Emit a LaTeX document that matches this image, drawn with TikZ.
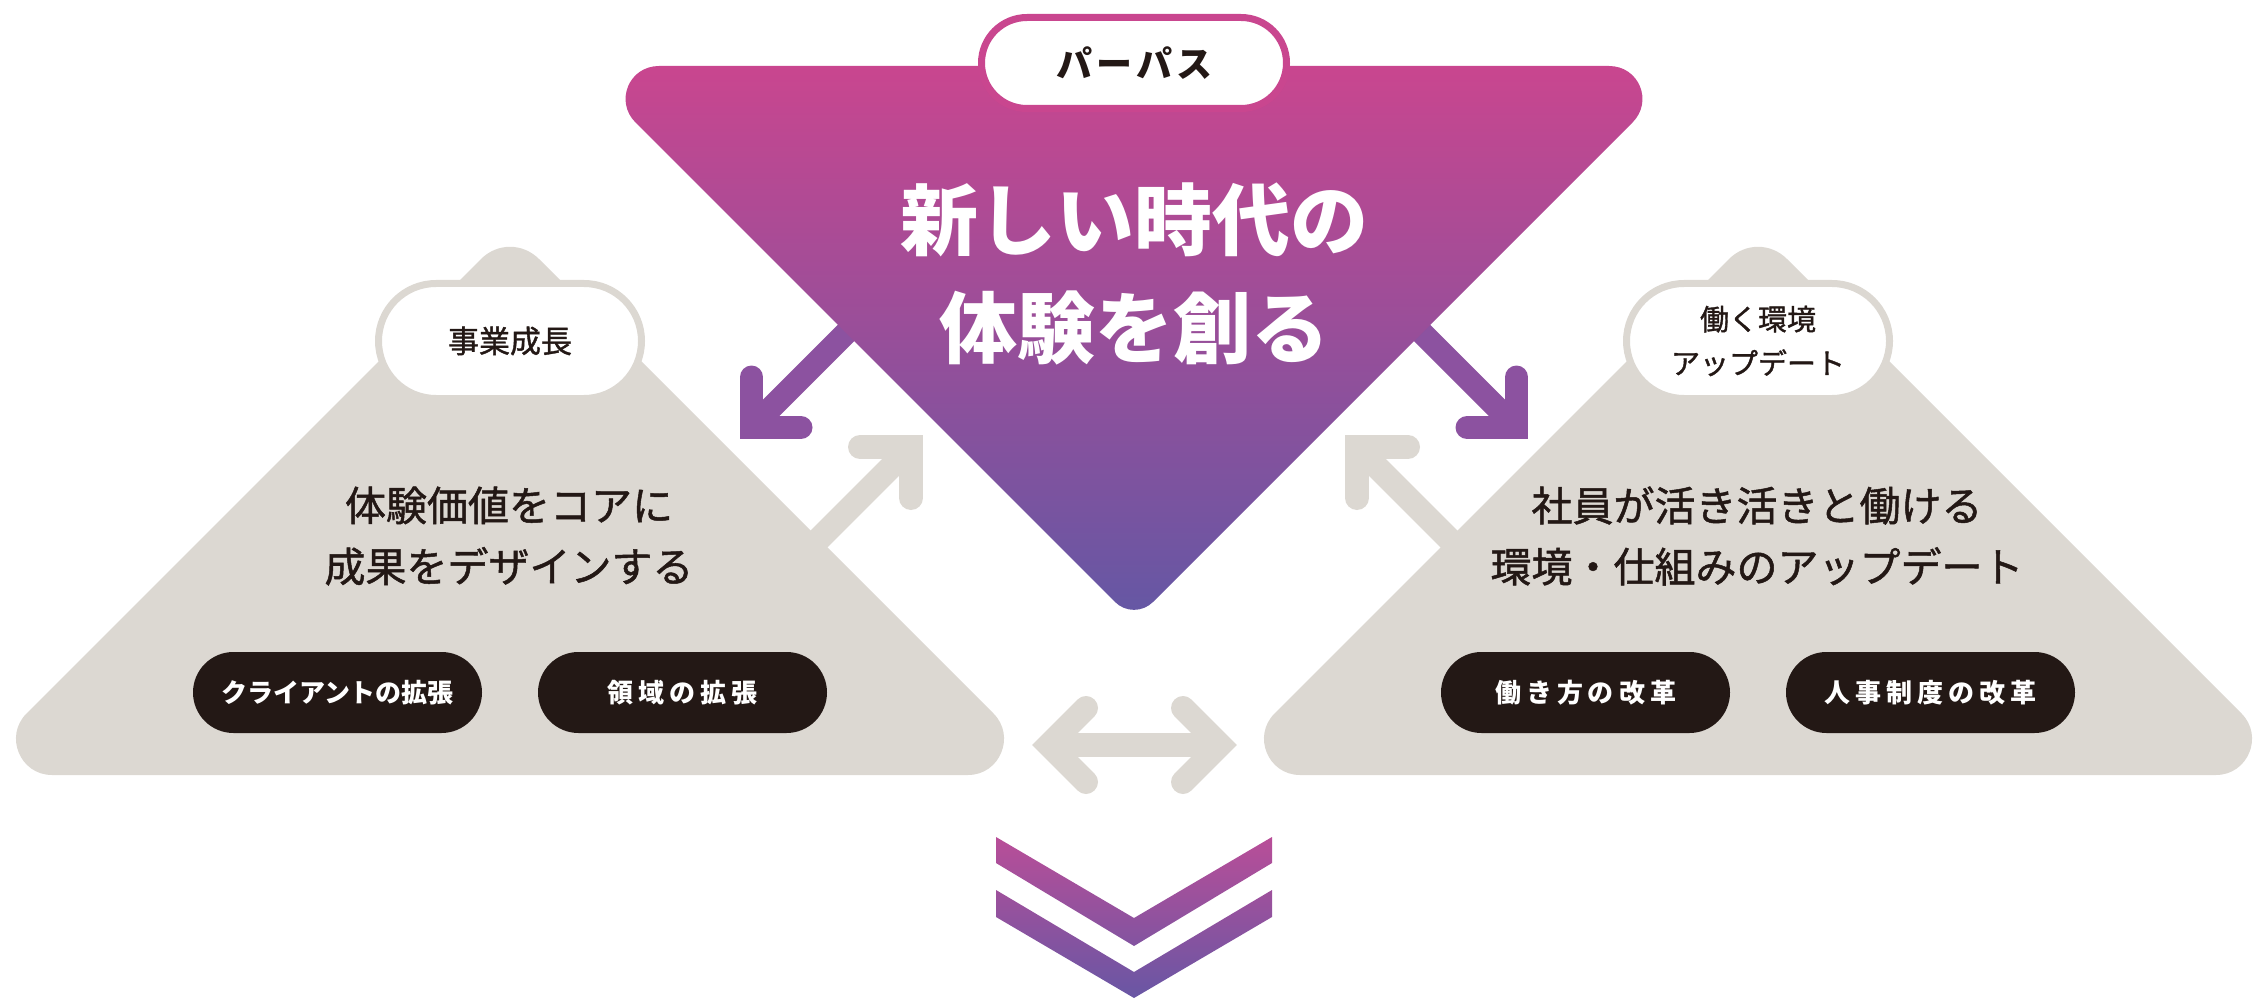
\documentclass[tikz,border=0pt]{standalone}
\usepackage{fontspec}
\newfontfamily\jp{Noto Sans CJK JP}
\newfontfamily\jpm[FakeBold=1.2]{Noto Sans CJK JP}
\usetikzlibrary{calc,shapes.misc}
\definecolor{ptop}{RGB}{201,70,143}
\definecolor{pbot}{RGB}{101,87,164}
\definecolor{parr}{RGB}{140,82,160}
\definecolor{gtri}{RGB}{220,216,210}
\definecolor{ink}{RGB}{35,24,21}
\definecolor{chtop}{RGB}{185,78,152}
\definecolor{chbot}{RGB}{104,86,164}
% rounded triangle: #1 options, #2 A, #3 B, #4 C, #5 tangent dist at A,B, #6 control dist at A,B, #7 tangent at C, #8 control at C
\newcommand\rtri[8]{\path[#1] ($(#2)!#5!(#3)$) -- ($(#3)!#5!(#2)$) .. controls ($(#3)!#6!(#2)$) and ($(#3)!#6!(#4)$) .. ($(#3)!#5!(#4)$) -- ($(#4)!#7!(#3)$) .. controls ($(#4)!#8!(#3)$) and ($(#4)!#8!(#2)$) .. ($(#4)!#7!(#2)$) -- ($(#2)!#5!(#4)$) .. controls ($(#2)!#6!(#4)$) and ($(#2)!#6!(#3)$) .. ($(#2)!#5!(#3)$) -- cycle;}
\newcommand\tracked[2]{\def\trkamt{#1}\trkloop#2\relax}
\def\trkloop#1#2{#1\ifx\relax#2\else\kern\trkamt\relax\expandafter\trkloop\expandafter#2\fi}
\begin{document}
\begin{tikzpicture}[x=1pt,y=-1pt,
  parrowhead/.style={draw=parr, line width=23pt, line cap=round, line join=miter},
  pshaft/.style={draw=parr, line width=23pt},
  garrowhead/.style={draw=gtri, line width=24pt, line cap=round, line join=miter},
  gshaft/.style={draw=gtri, line width=24pt},
  graypill/.style={rounded rectangle, draw=gtri, line width=7pt, fill=white, minimum width=263pt, minimum height=115pt, inner sep=0pt, text=ink},
  blackpill/.style={rounded rectangle, fill=ink, minimum width=289pt, minimum height=81pt, inner sep=0pt, text=white, font=\jp\bfseries\fontsize{26}{30}\selectfont},
  purposepill/.style={rounded rectangle, draw=ptop, line width=7pt, fill=white, minimum width=305pt, minimum height=91pt, inner sep=0pt, text=ink, font=\jp\bfseries\fontsize{36}{40}\selectfont},
  midtext/.style={text=ink, align=center, font=\jpm\fontsize{41}{61}\selectfont}]
\useasboundingbox (0,0) rectangle (2257,1000);

% purple arrows (behind the big triangle)
\coordinate (plc) at (751.5,427.5);
\coordinate (pl1) at (751.5,377);
\coordinate (pl2) at (801,427.5);
\coordinate (pls) at (880,299);
\draw[pshaft] (plc) -- (pls);
\draw[parrowhead] (pl1) -- (plc) -- (pl2);
\coordinate (prc) at (1516.5,427.5);
\coordinate (pr1) at (1516.5,377);
\coordinate (pr2) at (1467,427.5);
\coordinate (prs) at (1388,299);
\draw[pshaft] (prc) -- (prs);
\draw[parrowhead] (pr1) -- (prc) -- (pr2);

% gray arrows pointing up to the purpose triangle
\coordinate (glc) at (911,447);
\coordinate (gl1) at (860,447);
\coordinate (gl2) at (911,498);
\coordinate (gls) at (790,568);
\draw[gshaft] (glc) -- (gls);
\draw[garrowhead] (gl1) -- (glc) -- (gl2);
\coordinate (grc) at (1357,447);
\coordinate (gr1) at (1408,447);
\coordinate (gr2) at (1357,498);
\coordinate (grs) at (1478,568);
\draw[gshaft] (grc) -- (grs);
\draw[garrowhead] (gr1) -- (grc) -- (gr2);

% gray double arrow
\coordinate (dl) at (1049,745);
\coordinate (dr) at (1220,745);
\coordinate (dl1) at (1086,708);
\coordinate (dl2) at (1086,782);
\coordinate (dr1) at (1183,708);
\coordinate (dr2) at (1183,782);
\draw[gshaft] (dl) -- (dr);
\draw[garrowhead] (dl1) -- (dl) -- (dl2);
\draw[garrowhead] (dr1) -- (dr) -- (dr2);

% purple triangle
\coordinate (PA) at (579,66);
\coordinate (PB) at (1689,66);
\coordinate (PC) at (1134,621);
\rtri{shade, top color=ptop, bottom color=pbot}{PA}{PB}{PC}{80pt}{50pt}{27pt}{12pt}

% gray triangles
\coordinate (LA) at (-35,775);
\coordinate (LB) at (1055,775);
\coordinate (LC) at (510,230);
\rtri{fill=gtri}{LA}{LB}{LC}{87pt}{55pt}{41pt}{18pt}
\coordinate (RA) at (1213,775);
\coordinate (RB) at (2303,775);
\coordinate (RC) at (1758,230);
\rtri{fill=gtri}{RA}{RB}{RC}{87pt}{55pt}{41pt}{18pt}

% purpose pill and title
\node[purposepill] (purpose) at (1134,63) {\tracked{4pt}{パーパス}};
\node[text=white, align=center, font=\jp\bfseries\fontsize{78}{108}\selectfont] (title) at (1134,274) {新しい時代の\\体験を創る};

% top pills of gray triangles
\node[graypill, font=\jpm\fontsize{31}{36}\selectfont] (biz) at (510,341) {事業成長};
\node[graypill, align=center, font=\jpm\fontsize{29}{44}\selectfont] (work) at (1758,341) {働く環境\\アップデート};

% middle texts
\node[midtext] (lmid) at (509,536) {体験価値をコアに\\成果をデザインする};
\node[midtext] (rmid) at (1757,536) {社員が活き活きと働ける\\環境・仕組みのアップデート};

% black pills
\node[blackpill] (client) at (337.5,692.5) {クライアントの拡張};
\node[blackpill] (domain) at (682.5,692.5) {\tracked{5pt}{領域の拡張}};
\node[blackpill] (style) at (1585.5,692.5) {\tracked{5pt}{働き方の改革}};
\node[blackpill] (hr) at (1930.5,692.5) {\tracked{5pt}{人事制度の改革}};

% chevrons
\shade[top color=chtop, bottom color=chbot]
  (996,837) -- (1134,918) -- (1272,837) -- (1272,863) -- (1134,946) -- (996,863) -- cycle
  (996,890) -- (1134,972) -- (1272,890) -- (1272,917) -- (1134,998) -- (996,917) -- cycle;
\end{tikzpicture}
\end{document}
